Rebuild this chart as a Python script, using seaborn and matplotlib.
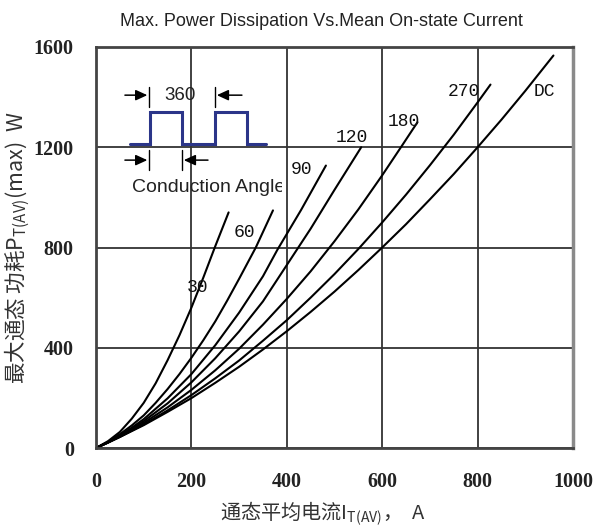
"""Max. power dissipation vs. mean on-state current (thyristor datasheet curve)."""
import matplotlib
matplotlib.use("Agg")
import matplotlib.pyplot as plt
import pandas as pd
import seaborn as sns

# curves: mean on-state current (A) -> max dissipation (W)
current_30 = [0, 25, 50, 75, 100, 125, 150, 175, 200, 225, 250, 278]
power_30 = [0, 27, 64, 117, 180, 258, 350, 450, 560, 680, 805, 940]

current_60 = [0, 25, 50, 75, 100, 125, 150, 175, 200, 225, 250, 275, 300, 335, 371]
power_60 = [0, 24, 55, 90, 130, 180, 235, 295, 360, 430, 505, 588, 675, 800, 948]

current_90 = [0, 25, 50, 75, 100, 150, 200, 250, 300, 350, 380, 430, 482]
power_90 = [0, 23, 50, 81, 115, 198, 295, 410, 540, 685, 790, 950, 1127]

current_120 = [0, 25, 50, 75, 100, 150, 200, 250, 300, 350, 400, 450, 500, 556]
power_120 = [0, 22, 48, 76, 107, 178, 262, 358, 465, 585, 730, 875, 1030, 1200]

current_180 = [0, 25, 50, 75, 100, 150, 200, 250, 300, 350, 400, 450, 500, 550,
               600, 641, 674]
power_180 = [0, 22, 46, 71, 100, 162, 232, 310, 396, 492, 595, 705, 825, 952,
             1088, 1205, 1300]

current_270 = [0, 25, 50, 100, 150, 200, 250, 300, 350, 400, 450, 500, 550, 600,
               650, 700, 750, 800, 827]
power_270 = [0, 22, 44, 94, 150, 211, 278, 349, 428, 510, 600, 694, 794, 900,
             1011, 1128, 1250, 1379, 1450]

current_dc = [0, 25, 50, 100, 150, 200, 250, 300, 350, 400, 450, 500, 550, 600,
              650, 700, 750, 800, 850, 900, 959]
power_dc = [0, 21, 44, 91, 144, 199, 260, 324, 393, 466, 543, 624, 710, 800,
            893, 992, 1093, 1200, 1310, 1425, 1566]

angle_labels = ["30", "60", "90", "120", "180", "270", "DC"]
x_ticks = [0, 200, 400, 600, 800, 1000]
y_ticks = [0, 400, 800, 1200, 1600]

# where each curve label sits (data coords)
label_pos = [(214, 641), (312, 860), (431, 1110), (536, 1239),
             (645, 1303), (771, 1422), (940, 1422)]


def build_frame():
    series = [(current_30, power_30), (current_60, power_60), (current_90, power_90),
              (current_120, power_120), (current_180, power_180),
              (current_270, power_270), (current_dc, power_dc)]
    parts = []
    for name, (cur, pw) in zip(angle_labels, series):
        parts.append(pd.DataFrame({"current": cur, "power": pw, "angle": name}))
    return pd.concat(parts, ignore_index=True)


def draw_waveform(fig):
    # little conduction-angle sketch, white box hides the grid behind it
    ins = fig.add_axes([115 / 599, 1 - 203 / 527, 167 / 599, 136 / 527])
    ins.set_xlim(-194, 731)
    ins.set_ylim(-1.84, 2.41)
    ins.axis("off")
    ins.patch.set_visible(True)
    ins.patch.set_facecolor("white")
    wave_x = [-111, 0, 0, 175, 175, 360, 360, 535, 535, 642]
    wave_y = [0, 0, 1, 1, 0, 0, 1, 1, 0, 0]
    ins.plot(wave_x, wave_y, color="#2b3589", lw=2.2, solid_joinstyle="miter")

    arrow = dict(arrowstyle="-|>,head_length=0.7,head_width=0.32", color="black",
                 lw=1.1, shrinkA=0, shrinkB=0)
    # 360 period
    ins.plot([-5, -5], [1.16, 1.78], color="black", lw=1)
    ins.plot([360, 360], [1.16, 1.78], color="black", lw=1)
    ins.annotate("", xy=(-15, 1.53), xytext=(-139, 1.53), arrowprops=arrow)
    ins.annotate("", xy=(370, 1.53), xytext=(509, 1.53), arrowprops=arrow)
    ins.text(166, 1.53, "360", ha="center", va="center", fontsize=13.5,
             family="Liberation Sans", color="#222")
    # conduction angle
    ins.plot([-5, -5], [-0.19, -0.81], color="black", lw=1)
    ins.plot([177, 177], [-0.19, -0.81], color="black", lw=1)
    ins.annotate("", xy=(-15, -0.5), xytext=(-139, -0.5), arrowprops=arrow)
    ins.annotate("", xy=(187, -0.5), xytext=(321, -0.5), arrowprops=arrow)
    ins.text(-100, -1.34, "Conduction Angle", ha="left", va="center", fontsize=14,
             family="Liberation Sans", color="#222", clip_on=True)


def main():
    df = build_frame()

    sns.set_style("white")
    plt.rcParams["font.family"] = ["Noto Sans CJK SC", "DejaVu Sans"]

    fig = plt.figure(figsize=(5.99, 5.27), dpi=100)
    ax = fig.add_axes([96 / 599, 1 - 448 / 527, 477 / 599, 401 / 527])

    sns.lineplot(data=df, x="current", y="power", hue="angle",
                 palette=["black"] * len(angle_labels), legend=False,
                 sort=False, estimator=None, lw=1.5, ax=ax)

    ax.set_xlim(0, 1000)
    ax.set_ylim(0, 1600)
    ax.set_xticks(x_ticks)
    ax.set_yticks(y_ticks)
    ax.set_xticklabels([str(t) for t in x_ticks], family="Liberation Serif",
                       fontweight="bold", fontsize=14.5, color="#222")
    ax.set_yticklabels([str(t) for t in y_ticks], family="Liberation Serif",
                       fontweight="bold", fontsize=14.5, color="#222")
    ax.tick_params(axis="x", length=0, pad=17)
    ax.tick_params(axis="y", length=0, pad=16)
    ax.grid(True, color="#333333", lw=1.3)
    for side, sp in ax.spines.items():
        sp.set_color("#444444")
        sp.set_linewidth(2)
    ax.spines["right"].set_color("#8a8a8a")
    ax.spines["right"].set_linewidth(2.5)

    for name, (lx, ly) in zip(angle_labels, label_pos):
        ax.text(lx, ly, name, ha="center", va="center", fontsize=13,
                family="Liberation Mono", color="#111")

    fig.text(321 / 599, 1 - 22 / 527, "Max. Power Dissipation Vs.Mean On-state Current",
             ha="center", va="center", family="Liberation Sans", fontsize=13,
             color="#222")
    ax.set_xlabel(r"通态平均电流I$_{\mathregular{T(AV)}}$，  A", fontsize=14.5,
                  color="#333")
    ax.xaxis.set_label_coords((323 - 96) / 477, -52 / 401)
    ax.set_ylabel(r"最大通态 功耗P$_{\mathregular{T(AV)}}$(max)  W", fontsize=15.5,
                  color="#333")
    ax.yaxis.set_label_coords(-64 / 477, 0.5)

    draw_waveform(fig)

    fig.savefig("out.png", dpi=100)
    plt.close(fig)


if __name__ == "__main__":
    main()
